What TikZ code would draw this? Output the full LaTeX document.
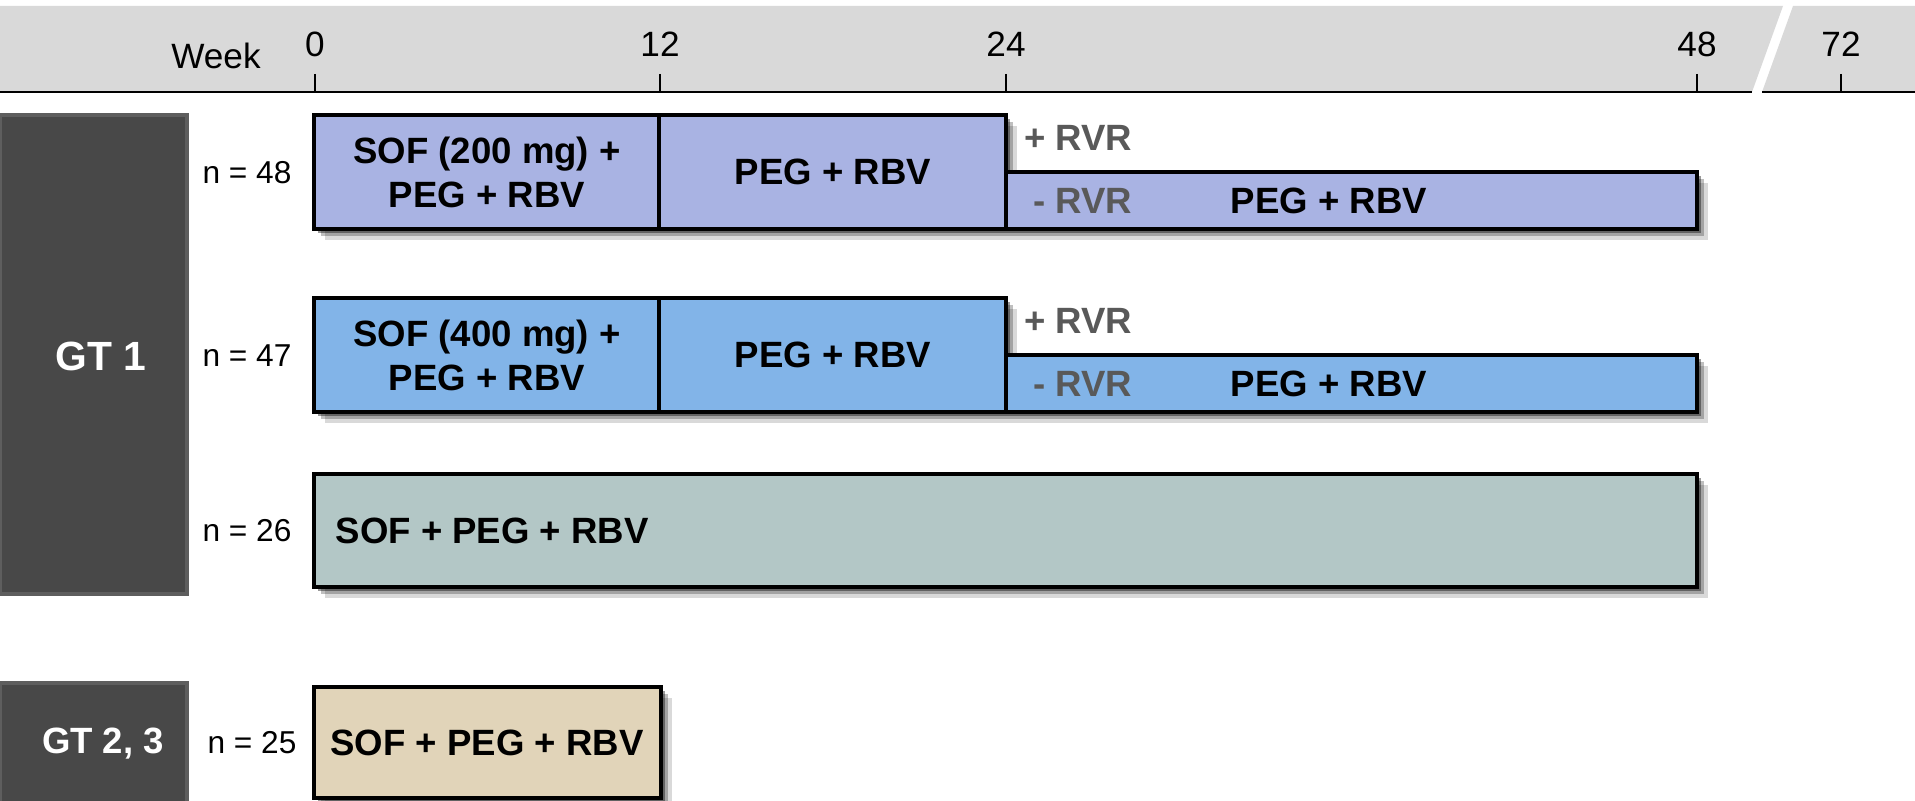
\documentclass[tikz,border=0pt]{standalone}
\usepackage{fontspec}
\setmainfont{Liberation Sans}
\usetikzlibrary{shadows}
\definecolor{hdrgray}{HTML}{D9D9D9}
\definecolor{gtgray}{HTML}{484848}
\definecolor{gtedge}{HTML}{5E5E5E}
\definecolor{armA}{HTML}{A9B3E3}
\definecolor{armB}{HTML}{82B4E8}
\definecolor{armC}{HTML}{B3C7C6}
\definecolor{armD}{HTML}{E1D4B9}
\definecolor{rvrgray}{HTML}{595959}
\begin{document}
\begin{tikzpicture}[x=0.01cm, y=-0.01cm,
	armbox/.style={draw=black, line width=1pt,
		drop shadow={shadow xshift=3pt, shadow yshift=-3pt, opacity=.15, fill=black},
		drop shadow={shadow xshift=2pt, shadow yshift=-2pt, opacity=.25, fill=black},
		drop shadow={shadow xshift=1pt, shadow yshift=-1pt, opacity=.4, fill=black}},
	gtbox/.style={fill=gtgray, draw=gtedge, line width=.9pt},
	axisline/.style={line width=.7pt},
	lbl/.style={font=\fontsize{10.4}{12.5}\selectfont\bfseries, align=center, inner sep=0pt},
	rvr/.style={lbl, text=rvrgray, anchor=east},
	gtlbl/.style={lbl, text=white},
	nlbl/.style={font=\fontsize{9}{11}\selectfont, inner sep=0pt},
	ticklbl/.style={font=\fontsize{10}{12}\selectfont, inner sep=0pt}]
	\useasboundingbox (0,0) rectangle (1915,801);
	\fill[hdrgray] (0,6) -- (1783,6) -- (1752,92) -- (0,92) -- cycle;
	\fill[hdrgray] (1793,6) -- (1915,6) -- (1915,92) -- (1762,92) -- cycle;
	\draw[axisline] (0,92) -- (1752,92); \draw[axisline] (1762,92) -- (1915,92);
	\node[ticklbl] (week) at (216,56) {Week};
	\foreach \w/\x in {0/315, 12/660, 24/1006, 48/1697, 72/1841} {
		\draw[axisline] (\x,74) -- (\x,92);
		\node[ticklbl] (t\w) at (\x,44) {\w};
	}
	\draw[gtbox] (0,115) rectangle (187,594);
	\draw[gtbox] (0,683) rectangle (187,806);
	\node[gtlbl, font=\fontsize{11.6}{14}\selectfont\bfseries] (gt1) at (101,356) {GT 1};
	\node[gtlbl] (gt23) at (103,744) {GT 2, 3};
	\draw[armbox, fill=armA] (314,115) rectangle (659,229);
	\draw[armbox, fill=armA] (659,115) rectangle (1006,229);
	\draw[armbox, fill=armA] (1006,172) rectangle (1697,229);
	\node[nlbl] (n48) at (247,173) {n = 48};
	\node[lbl] (sof200) at (487,172) {SOF (200 mg) +\\PEG + RBV};
	\node[lbl] (peg200) at (833,172) {PEG + RBV};
	\node[rvr] (plus200) at (1133,138) {+ RVR};
	\node[rvr] (minus200) at (1133,201) {- RVR};
	\node[lbl] (ext200) at (1329,201) {PEG + RBV};
	\draw[armbox, fill=armB] (314,298) rectangle (659,412);
	\draw[armbox, fill=armB] (659,298) rectangle (1006,412);
	\draw[armbox, fill=armB] (1006,355) rectangle (1697,412);
	\node[nlbl] (n47) at (247,356) {n = 47};
	\node[lbl] (sof400) at (487,355) {SOF (400 mg) +\\PEG + RBV};
	\node[lbl] (peg400) at (833,355) {PEG + RBV};
	\node[rvr] (plus400) at (1133,321) {+ RVR};
	\node[rvr] (minus400) at (1133,384) {- RVR};
	\node[lbl] (ext400) at (1329,384) {PEG + RBV};
	\draw[armbox, fill=armC] (314,474) rectangle (1697,587);
	\node[nlbl] (n26) at (247,531) {n = 26};
	\node[lbl, anchor=west] (sof48) at (335,531) {SOF + PEG + RBV};
	\draw[armbox, fill=armD] (314,687) rectangle (661,798);
	\node[nlbl] (n25) at (252,743) {n = 25};
	\node[lbl] (sof12) at (487,743) {SOF + PEG + RBV};
\end{tikzpicture}
\end{document}
